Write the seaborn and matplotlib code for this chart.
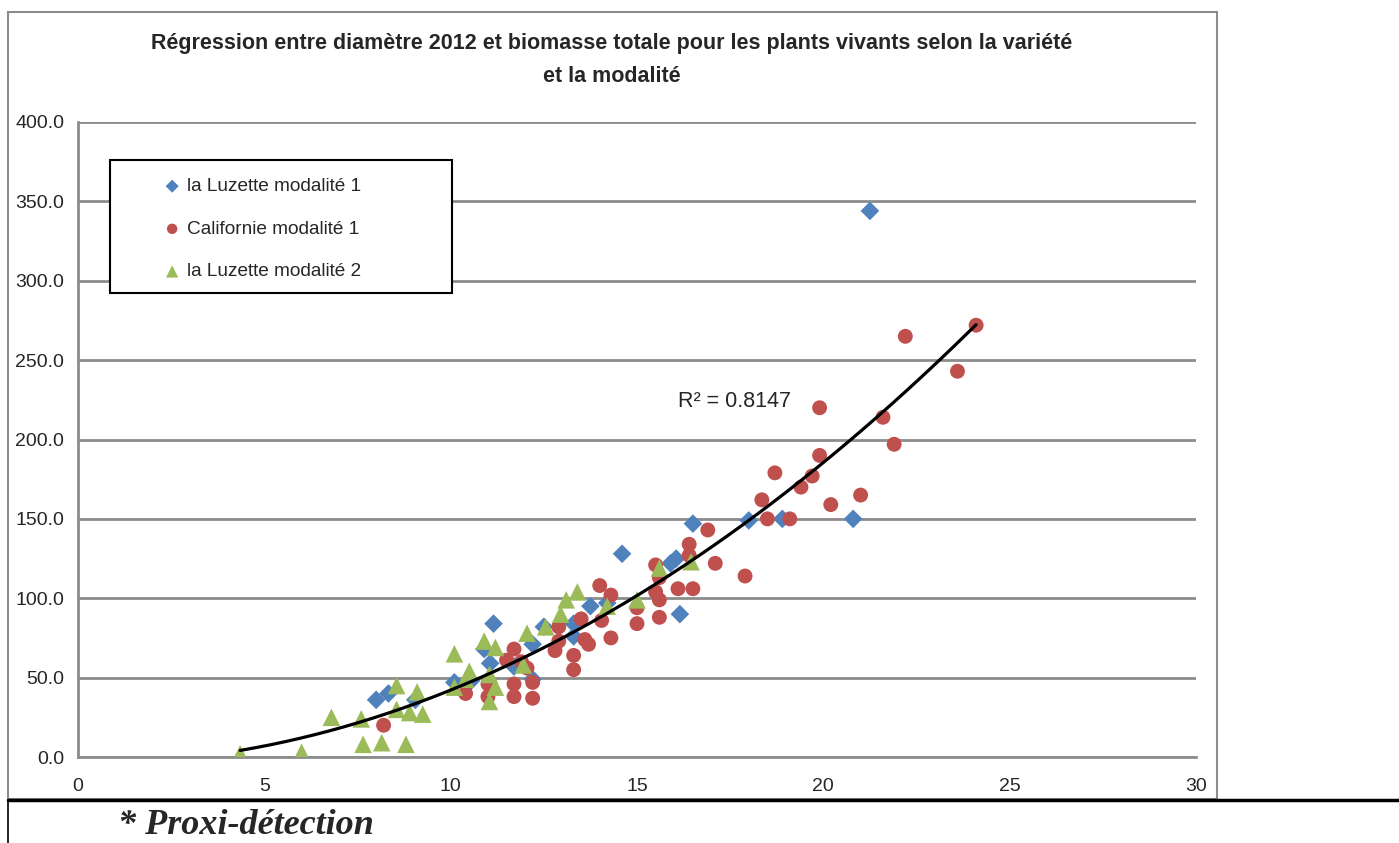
import numpy as np
import pandas as pd
import matplotlib.pyplot as plt
from matplotlib.patches import Rectangle
from matplotlib.lines import Line2D
import seaborn as sns

# ---- data --------------------------------------------------------------------
luz1_x = [8.0, 8.33, 9.05, 10.1, 10.55, 10.9, 11.06, 11.15, 11.7, 12.2, 12.2, 12.5,
          13.3, 13.3, 13.75, 14.2, 14.6, 15.9, 16.05, 16.15, 16.5, 18.0, 18.9, 20.8, 21.25]
luz1_y = [36, 40, 36, 47, 48, 68, 59, 84, 57, 71, 49, 82,
          84, 76, 95, 97, 128, 122, 125, 90, 147, 149, 150, 150, 344]

cal1_x = [8.2, 10.4, 11.0, 11.0, 11.5, 11.7, 11.7, 11.7, 11.9, 12.05, 12.2, 12.2,
          12.8, 12.9, 12.9, 13.3, 13.3, 13.5, 13.6, 13.7, 14.0, 14.05, 14.3, 14.3,
          15.0, 15.0, 15.5, 15.5, 15.6, 15.6, 15.6, 16.1, 16.4, 16.4, 16.5, 16.9,
          17.1, 17.9, 18.35, 18.5, 18.7, 19.1, 19.4, 19.7, 19.9, 19.9, 20.2, 21.0,
          21.6, 21.9, 22.2, 23.6, 24.1]
cal1_y = [20, 40, 46, 38, 61, 68, 46, 38, 60, 56, 47, 37,
          67, 82, 73, 64, 55, 87, 74, 71, 108, 86, 102, 75,
          94, 84, 121, 104, 113, 99, 88, 106, 134, 127, 106, 143,
          122, 114, 162, 150, 179, 150, 170, 177, 190, 220, 159, 165,
          214, 197, 265, 243, 272]

luz2_x = [4.35, 6.0, 6.8, 7.6, 7.65, 8.15, 8.55, 8.55, 8.8, 8.9, 9.1, 9.25,
          10.1, 10.1, 10.4, 10.5, 10.9, 11.04, 11.04, 11.2, 11.2, 11.95, 12.05,
          12.55, 12.95, 13.1, 13.4, 14.2, 15.0, 15.6, 16.45]
luz2_y = [2, 3, 25, 24, 8, 9, 45, 30, 8, 28, 41, 27,
          65, 44, 49, 54, 73, 52, 35, 69, 44, 58, 78,
          82, 90, 99, 104, 95, 99, 119, 123]

series_names = ["la Luzette modalité 1", "Californie modalité 1", "la Luzette modalité 2"]
r2_text = "R² = 0.8147"

df = pd.concat([
    pd.DataFrame({"diametre": luz1_x, "biomasse": luz1_y, "serie": series_names[0]}),
    pd.DataFrame({"diametre": cal1_x, "biomasse": cal1_y, "serie": series_names[1]}),
    pd.DataFrame({"diametre": luz2_x, "biomasse": luz2_y, "serie": series_names[2]}),
], ignore_index=True)

# ---- style -------------------------------------------------------------------
sns.set_style("white")
plt.rcParams["font.family"] = ["Liberation Sans", "DejaVu Sans"]

colors = {series_names[0]: "#4F81BD", series_names[1]: "#C0504D", series_names[2]: "#9BBB59"}
markers = {series_names[0]: "D", series_names[1]: "o", series_names[2]: "^"}
sizes = {series_names[0]: 90, series_names[1]: 115, series_names[2]: 160}

W, H = 1399, 843
fig = plt.figure(figsize=(W / 100, H / 100), dpi=100)
ax = fig.add_axes([78 / W, 1 - 757 / H, (1196 - 78) / W, (757 - 122) / H])

for name in series_names:
    sub = df[df["serie"] == name]
    sns.scatterplot(data=sub, x="diametre", y="biomasse", color=colors[name],
                    marker=markers[name], s=sizes[name], edgecolor="none",
                    ax=ax, label=name, zorder=3)

# polynomial (order 2) trendline on all points
coef = np.polyfit(df["diametre"], df["biomasse"], 2)
xs = np.linspace(df["diametre"].min(), df["diametre"].max(), 200)
ax.plot(xs, np.polyval(coef, xs), color="black", lw=2.3, zorder=4)
ax.text(16.1, 224, r2_text, fontsize=15.5, va="center", ha="left")

ax.set_xlim(0, 30)
ax.set_ylim(0, 400)
ax.set_xticks(range(0, 31, 5))
ax.set_yticks(range(0, 401, 50))
ax.set_yticklabels([f"{v:.1f}" for v in range(0, 401, 50)])
ax.set_xlabel("")
ax.set_ylabel("")
ax.yaxis.grid(True, color="#8c8c8c", lw=2)
ax.set_axisbelow(True)
for side in ["top", "right"]:
    ax.spines[side].set_visible(False)
for side in ["left", "bottom"]:
    ax.spines[side].set_color("#8c8c8c")
    ax.spines[side].set_linewidth(2)
ax.tick_params(axis="both", which="both", direction="out", length=6, width=1.5,
               color="#8c8c8c", labelsize=14, pad=4)
ax.tick_params(axis="x", pad=9)

# legend box (Excel style, wide frame) + legend entries
ax.add_patch(Rectangle((0.0286, 0.7307), 0.3059, 0.2093, transform=ax.transAxes,
                       facecolor="white", edgecolor="black", lw=1.5, zorder=5))
leg = ax.legend(loc="upper left", bbox_to_anchor=(0.0757, 0.912), fontsize=13.7,
                frameon=False, labelspacing=1.33, handletextpad=0.3, borderpad=0,
                handlelength=1.0, borderaxespad=0, markerscale=0.7)
leg.set_zorder(6)

fig.text(612 / W, 1 - 60 / H,
         "Régression entre diamètre 2012 et biomasse totale pour les plants vivants selon la variété\net la modalité",
         ha="center", va="center", fontsize=15.5, fontweight="bold", linespacing=1.7)

# chart frame and footer
fig.patches.append(Rectangle((8 / W, 1 - 799 / H), (1217 - 8) / W, (799 - 12) / H,
                             transform=fig.transFigure, fill=False,
                             edgecolor="#8c8c8c", lw=1.5))
fig.lines.append(Line2D([8 / W, 1], [1 - 800 / H, 1 - 800 / H],
                        transform=fig.transFigure, color="black", lw=2.5))
fig.lines.append(Line2D([8 / W, 8 / W], [0, 1 - 800 / H],
                        transform=fig.transFigure, color="black", lw=1.2))
fig.text(118 / W, 1 - 826 / H, "* Proxi-détection", fontsize=26,
         family=["Liberation Serif", "DejaVu Serif"], fontweight="bold",
         fontstyle="italic", va="center", ha="left")

fig.savefig("out.png", dpi=100)
